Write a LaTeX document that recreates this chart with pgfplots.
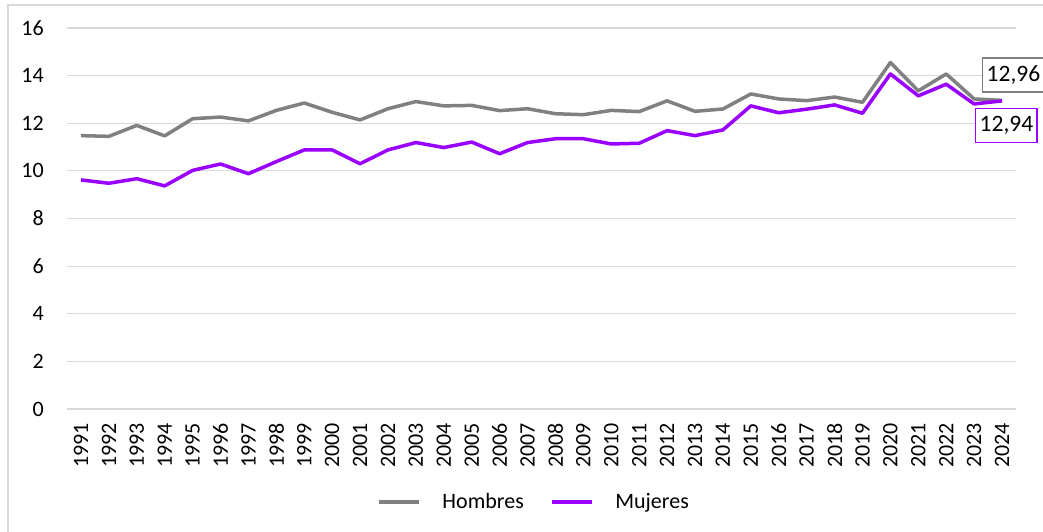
\documentclass[border=0pt]{standalone}
\usepackage{pgfplots}
\pgfplotsset{compat=1.18}
\usepackage{fontspec}
\setmainfont{Carlito}
\definecolor{hom}{RGB}{128,128,128}
\definecolor{muj}{RGB}{153,0,255}
\definecolor{gridc}{RGB}{217,217,217}
\pgfplotstableread{
year hom muj
1991 11.48 9.62
1992 11.45 9.48
1993 11.91 9.67
1994 11.47 9.37
1995 12.19 10.02
1996 12.26 10.29
1997 12.10 9.88
1998 12.54 10.39
1999 12.85 10.88
2000 12.46 10.88
2001 12.14 10.30
2002 12.61 10.88
2003 12.91 11.19
2004 12.73 10.98
2005 12.75 11.21
2006 12.53 10.72
2007 12.61 11.19
2008 12.40 11.35
2009 12.36 11.35
2010 12.54 11.13
2011 12.49 11.16
2012 12.94 11.69
2013 12.50 11.48
2014 12.60 11.72
2015 13.23 12.73
2016 13.02 12.44
2017 12.95 12.59
2018 13.10 12.77
2019 12.88 12.42
2020 14.55 14.07
2021 13.36 13.15
2022 14.07 13.64
2023 13.02 12.81
2024 12.96 12.94
}\datatable
\begin{document}
\begin{tikzpicture}[font=\fontsize{22}{26}\selectfont]
\useasboundingbox (0pt,0pt) rectangle (1043pt,531pt);
\clip (0pt,0pt) rectangle (1043pt,531pt);
\fill[white] (0pt,0pt) rectangle (1043pt,531pt);
\draw[gridc, line width=1.2pt] (8pt,-5pt) -- (8pt,526pt) -- (1050pt,526pt);
\begin{axis}[
  at={(67pt,122pt)}, anchor=south west, scale only axis,
  width=949pt, height=381pt,
  xmin=1990.5, xmax=2024.5, ymin=0, ymax=16,
  xtick=data, ytick={0,2,...,16},
  xticklabel={\pgfmathprintnumber[1000 sep={},assume math mode=true]{\tick}},
  yticklabel={\pgfmathprintnumber[assume math mode=true]{\tick}},
  axis line style={draw=none},
  major tick length=0pt,
  ymajorgrids, grid style={gridc, line width=1.2pt},
  xticklabel style={yshift=-14pt, rotate=90, anchor=east, inner sep=0pt},
  yticklabel style={anchor=east, inner sep=0pt, xshift=-23pt},
  clip=false,
  legend columns=2,
  legend style={draw=none, fill=none, at={(0.492,-0.244)}, anchor=center,
    /tikz/every odd column/.append style={column sep=20pt},
    /tikz/every even column/.append style={column sep=24pt}},
  legend image code/.code={\draw[#1] (0pt,0pt) -- (40pt,0pt);},
]
\addplot[hom, line width=3.5pt, line join=round] table[x=year,y=hom] {\datatable};
\addlegendentry{Hombres}
\addplot[muj, line width=3.5pt, line join=round] table[x=year,y=muj] {\datatable};
\addlegendentry{Mujeres}
\node[draw=hom, line width=1.5pt, fill=white, anchor=west, inner xsep=4pt, minimum height=34pt, font=\fontsize{23.5}{26}\selectfont] at (axis cs:2023.28,14.03) {12,96};
\node[draw=muj, line width=1.5pt, fill=white, anchor=west, inner xsep=4pt, minimum height=34pt, font=\fontsize{23.5}{26}\selectfont] at (axis cs:2023.03,11.9) {12,94};
\end{axis}
\end{tikzpicture}
\end{document}
